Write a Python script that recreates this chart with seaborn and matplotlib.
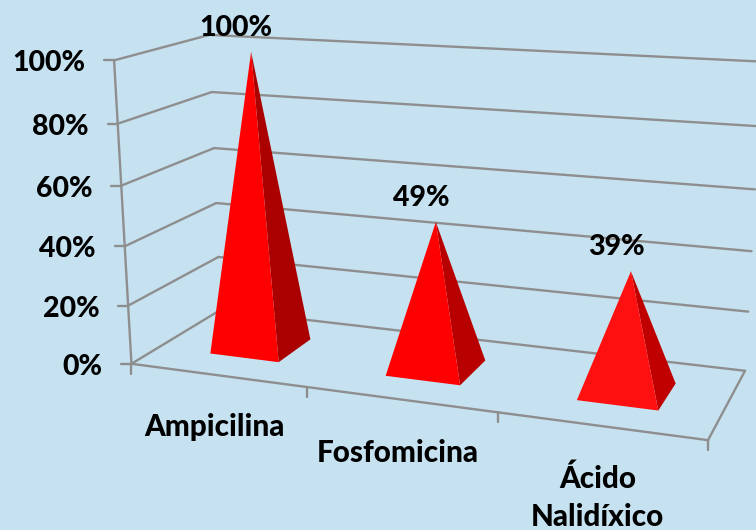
import numpy as np
import pandas as pd
import matplotlib
matplotlib.use("Agg")
import matplotlib.pyplot as plt
import seaborn as sns

# ---- data
categories = ["Ampicilina", "Fosfomicina", "Ácido\nNalidíxico"]
values = [100, 49, 39]
value_ticks = [0, 20, 40, 60, 80, 100]

# ---- styles
BG = "#C6E2F1"
GRID = "#8E8E8E"
front_colors = ["#FF0000", "#FF0000", "#FF1010"]
side_colors = ["#AA0000", "#B90000", "#C00000"]

sns.set_theme(style="white")
plt.rcParams["font.family"] = ["Lato", "DejaVu Sans"]

# ---- projective camera of the 3-D chart box: (category, depth, value) -> pixel
box_world = [(0, 0, 0), (3, 0, 0), (0, 1, 0), (3, 1, 0),
             (0, 0, 100), (0, 1, 100), (3, 1, 100),
             (0, 0, 40), (0, 1, 40), (3, 1, 40), (3, 1, 20), (1, 0, 0), (2, 0, 0)]
box_pixel = [(131, 364), (708, 440), (221, 310), (745, 370),
             (115, 60), (208, 35), (762, 62),
             (125, 246), (217, 203), (752, 251), (748, 312), (306, 387), (498, 413)]
rows, rhs = [], []
for (X, Y, Z), (u, v) in zip(box_world, box_pixel):
    rows.append([X, Y, Z, 1, 0, 0, 0, 0, -u * X, -u * Y, -u * Z]); rhs.append(u)
    rows.append([0, 0, 0, 0, X, Y, Z, 1, -v * X, -v * Y, -v * Z]); rhs.append(v)
cam = np.append(np.linalg.lstsq(np.array(rows, float), np.array(rhs, float), rcond=None)[0], 1).reshape(3, 4)


def project(x, d, val):
    p = cam @ np.array([x, d, val, 1.0])
    return p[0] / p[2], p[1] / p[2]


fig = plt.figure(figsize=(7.56, 5.3), dpi=100, facecolor=BG)
ax = fig.add_axes([0, 0, 1, 1])

# ---- frame, gridlines and ticks
segs = []


def seg(a, b):
    n = len(segs)
    segs.extend([(n, *a), (n, *b)])


for t in value_ticks:
    a = project(0, 0, t)
    seg(a, project(0, 1, t))
    seg(project(0, 1, t), project(3, 1, t))
    seg((a[0] - 10, a[1]), a)
seg(project(0, 0, 0), project(0, 0, 100))
seg(project(0, 0, 0), project(3, 0, 0))
seg(project(3, 0, 0), project(3, 1, 0))
for i in range(len(categories) + 1):
    a = project(i, 0, 0)
    seg(a, (a[0], a[1] + 10))
seg_df = pd.DataFrame(segs, columns=["seg", "px", "py"])
sns.lineplot(data=seg_df, x="px", y="py", units="seg", estimator=None, sort=False,
             color=GRID, linewidth=1.7, ax=ax, legend=False)
ax.set_xlim(0, 756)
ax.set_ylim(530, 0)
ax.axis("off")

# ---- pyramids
half_w, d0, d1 = 0.2, 0.29, 0.69
for i, val in enumerate(values):
    c = i + 0.508
    apex = project(c, 0.5 * (d0 + d1), val)
    fl = project(c - half_w, d0, 0)
    fr = project(c + half_w, d0, 0)
    br = project(c + half_w, d1, 0)
    ax.fill(*zip(apex, fr, br), color=side_colors[i], lw=0, zorder=3)
    ax.fill(*zip(apex, fl, fr), color=front_colors[i], lw=0, zorder=4)
    ax.text(apex[0] - 15, apex[1] - 24, f"{val}%", ha="center", va="center",
            fontsize=20.5, fontweight=900, color="black", zorder=5)

# ---- value axis labels
for t in value_ticks:
    a = project(0, 0, t)
    ax.text(a[0] - 29, a[1] + 3, f"{t}%", ha="right", va="center",
            fontsize=20.5, fontweight=900, color="black")

# ---- category labels
label_dx = [-3, -2, -3]
label_dy = [52, 54, 72]
for i, name in enumerate(categories):
    a = project(i + 0.5, 0, 0)
    ax.text(a[0] + label_dx[i], a[1] + label_dy[i], name, ha="center", va="center",
            fontsize=21.3, fontweight=900, color="black", linespacing=1.45)

fig.savefig("out.png", dpi=100, facecolor=BG)
